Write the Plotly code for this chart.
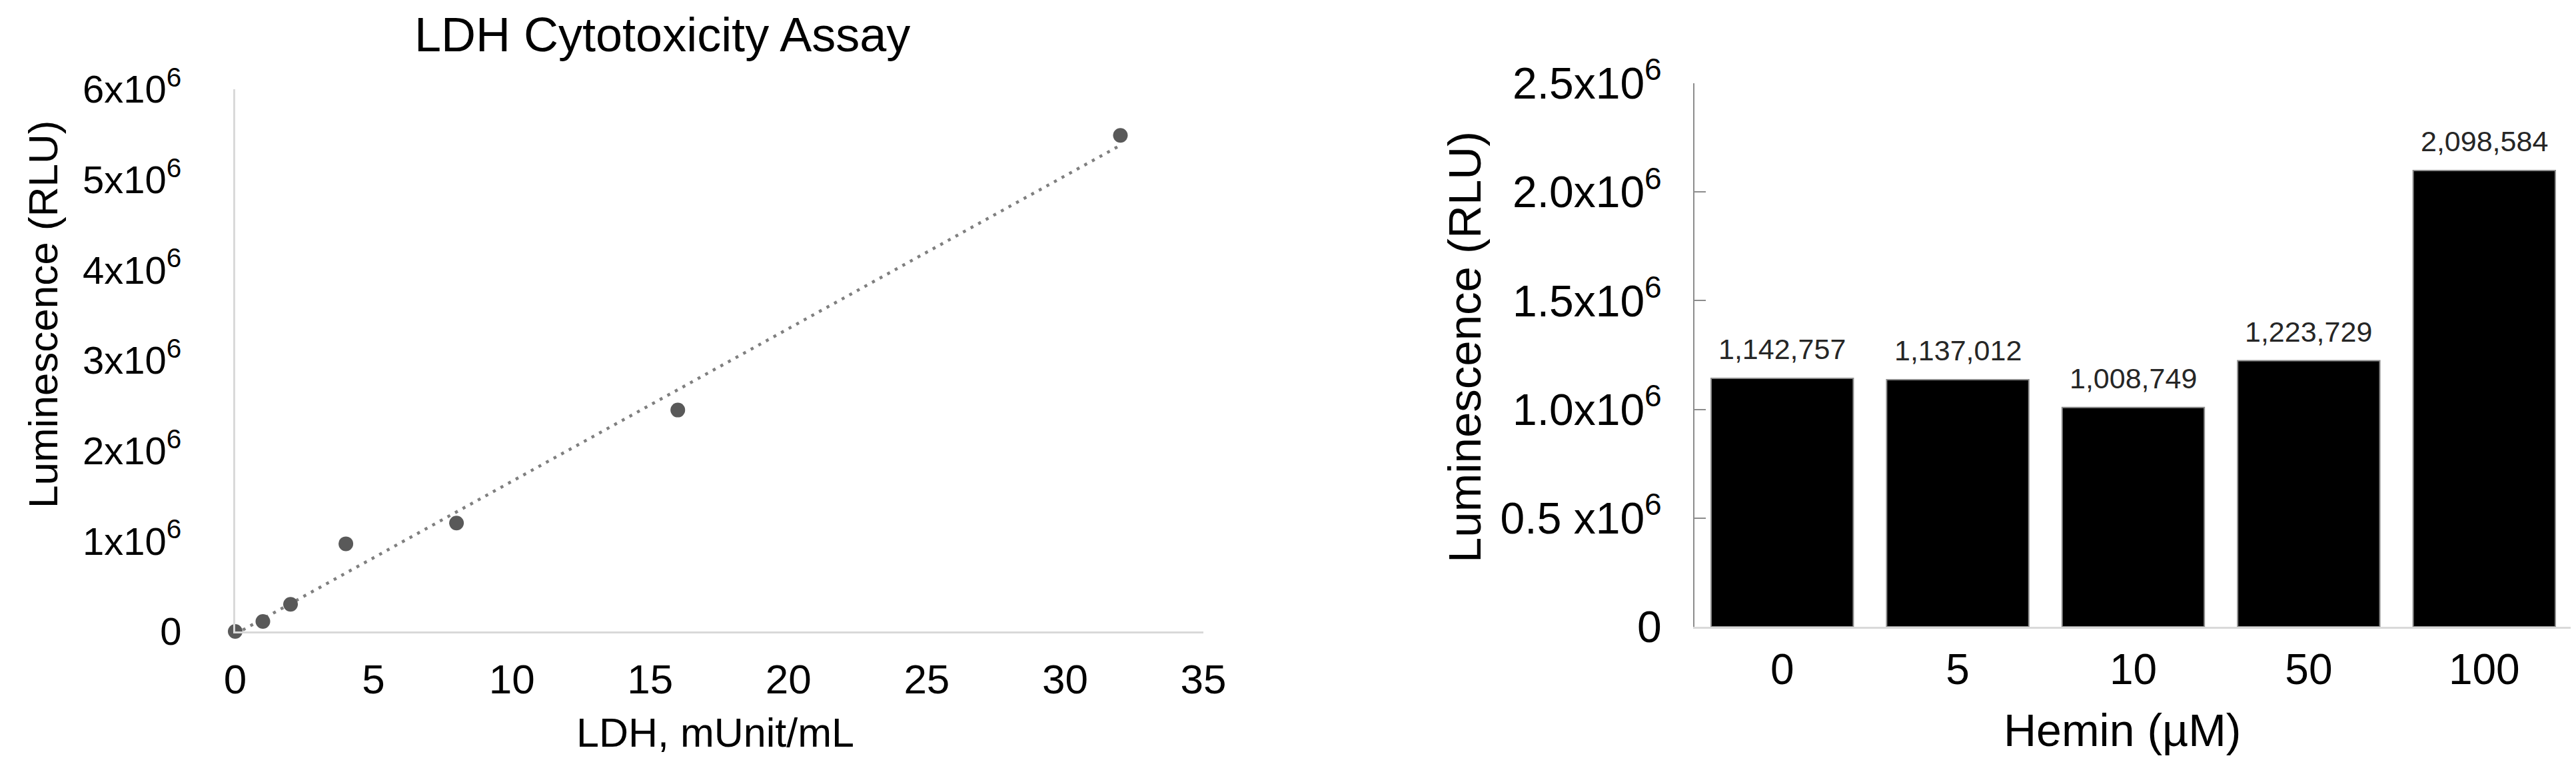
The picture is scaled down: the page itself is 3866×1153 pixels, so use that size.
import plotly.graph_objects as go

PAGE_W, PAGE_H = 3866, 1153
OFF = 8  # default body margin of the html page
W, H = PAGE_W - OFF, PAGE_H - OFF
FONT = "Liberation Sans, Arial, Helvetica, sans-serif"

# LDH standard curve (left panel)
ldh_x = [0, 0.5, 1, 2, 4, 8, 16, 32]
ldh_rlu = [0, -10000, 110000, 300000, 970000, 1200000, 2450000, 5490000]
trend_x = [0, 32]
trend_rlu = [-30000, 5380000]
ldh_ticks = [0, 1e6, 2e6, 3e6, 4e6, 5e6, 6e6]
ldh_ticktext = ["0", "1x10<sup>6</sup>", "2x10<sup>6</sup>", "3x10<sup>6</sup>",
                "4x10<sup>6</sup>", "5x10<sup>6</sup>", "6x10<sup>6</sup>"]

# Hemin bars (right panel)
hemin = ["0", "5", "10", "50", "100"]
hemin_rlu = [1142757, 1137012, 1008749, 1223729, 2098584]
hemin_ticks = [0, 0.5e6, 1.0e6, 1.5e6, 2.0e6, 2.5e6]
hemin_ticktext = ["0", "0.5 x10<sup>6</sup>", "1.0x10<sup>6</sup>", "1.5x10<sup>6</sup>",
                  "2.0x10<sup>6</sup>", "2.5x10<sup>6</sup>"]


# page pixel -> paper fraction
def px_x(p):
    return (p - OFF) / W


def px_y(p):
    return 1 - (p - OFF) / H


fig = go.Figure()

fig.add_trace(go.Scatter(
    x=trend_x, y=trend_rlu, mode="lines",
    line=dict(color="#7f7f7f", width=4.5, dash="4.5px,8.5px"),
    xaxis="x", yaxis="y", hoverinfo="skip", showlegend=False
))
fig.add_trace(go.Scatter(
    x=ldh_x, y=ldh_rlu, mode="markers",
    marker=dict(color="#595959", size=22),
    cliponaxis=False, xaxis="x", yaxis="y", showlegend=False
))
fig.add_trace(go.Bar(
    x=hemin, y=hemin_rlu,
    marker=dict(color="black", line=dict(color="#8c8c8c", width=2)),
    xaxis="x2", yaxis="y2", showlegend=False
))

annotations = []
# value labels over the bars (x given as category index)
for i, val in enumerate(hemin_rlu):
    annotations.append(dict(
        x=i, y=val, xref="x2", yref="y2", text=f"{val:,}",
        showarrow=False, yanchor="bottom", yshift=18,
        font=dict(size=43, color="#262626")
    ))

titles = [
    ("LDH Cytotoxicity Assay", 994, 52, 72, 0),
    ("LDH, mUnit/mL", 1073, 1100, 61, 0),
    ("Luminescence (RLU)", 64, 472, 62, -90),
    ("Hemin (µM)", 3185, 1096, 68, 0),
    ("Luminescence (RLU)", 2198, 521, 69, -90),
]
for text, px, py, size, ang in titles:
    annotations.append(dict(
        x=px_x(px), y=px_y(py), xref="paper", yref="paper", text=text,
        showarrow=False, xanchor="center", yanchor="middle", textangle=ang,
        font=dict(size=size, color="black")
    ))

fig.update_layout(
    width=W, height=H,
    margin=dict(l=0, r=0, t=0, b=0, pad=0),
    paper_bgcolor="white", plot_bgcolor="white",
    font=dict(family=FONT, color="black"),
    bargap=0.19,
    xaxis=dict(
        domain=[px_x(353), px_x(1806)], range=[0, 35], dtick=5,
        showgrid=False, zeroline=False, showline=True, automargin=False,
        linecolor="#d9d9d9", linewidth=3, ticks="",
        tickfont=dict(size=62), ticklabelstandoff=16, anchor="y"
    ),
    yaxis=dict(
        domain=[px_y(948), px_y(134)], range=[0, 6e6],
        tickvals=ldh_ticks, ticktext=ldh_ticktext,
        showgrid=False, zeroline=False, showline=True, automargin=False,
        linecolor="#d9d9d9", linewidth=3, ticks="",
        tickfont=dict(size=58), ticklabelstandoff=66, anchor="x"
    ),
    xaxis2=dict(
        domain=[px_x(2543), px_x(3860)], type="category", range=[-0.5, 4.5],
        showgrid=False, zeroline=False, showline=True, automargin=False,
        linecolor="#d9d9d9", linewidth=3, ticks="",
        tickfont=dict(size=64), ticklabelstandoff=6, anchor="y2"
    ),
    yaxis2=dict(
        domain=[px_y(941), px_y(125)], range=[0, 2.5e6],
        tickvals=hemin_ticks, ticktext=hemin_ticktext,
        showgrid=False, zeroline=False, showline=True, automargin=False,
        linecolor="#8c8c8c", linewidth=2,
        ticks="inside", ticklen=17, tickwidth=2, tickcolor="#8c8c8c",
        tickfont=dict(size=66), ticklabelstandoff=34, anchor="x2"
    ),
    annotations=annotations,
)

fig.write_html("out.html")
